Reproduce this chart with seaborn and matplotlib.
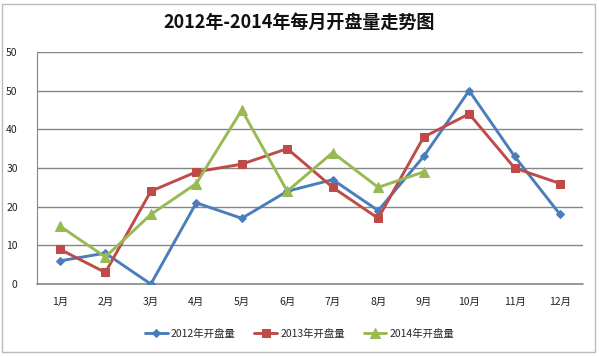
import matplotlib
matplotlib.use("Agg")
import matplotlib.pyplot as plt
import seaborn as sns
import pandas as pd
from matplotlib.patches import Rectangle

months = ["1月", "2月", "3月", "4月", "5月", "6月", "7月", "8月", "9月", "10月", "11月", "12月"]
s2012 = [6, 8, 0, 21, 17, 24, 27, 19, 33, 50, 33, 18]
s2013 = [9, 3, 24, 29, 31, 35, 25, 17, 38, 44, 30, 26]
s2014 = [15, 7, 18, 26, 45, 24, 34, 25, 29]
series_names = ["2012年开盘量", "2013年开盘量", "2014年开盘量"]
yticks = [0, 10, 20, 30, 40, 50, 60]
ytick_labels = ["0", "10", "20", "30", "40", "50", "50"]

sns.set_style("white")
plt.rcParams["font.family"] = ["Noto Sans CJK SC", "DejaVu Sans"]

colors = ["#4A7EBB", "#BE4B48", "#98B954"]
markers = ["D", "s", "^"]
msizes = [4.5, 6.2, 6.5]

fig = plt.figure(figsize=(5.99, 3.56), dpi=100)
ax = fig.add_axes([0.062, 0.202, 0.911, 0.652])

for name, vals, c, m, ms in zip(series_names, [s2012, s2013, s2014], colors, markers, msizes):
    df = pd.DataFrame({"x": range(len(vals)), "y": vals})
    sns.lineplot(data=df, x="x", y="y", ax=ax, color=c, marker=m, markersize=ms,
                 markeredgecolor=c, lw=2.1, label=name, zorder=3)

ax.set_xlim(-0.5, 11.5)
ax.set_ylim(0, 60)
ax.set_xticks(range(len(months)))
ax.set_xticklabels(months, fontsize=7.5, color="#222222")
ax.set_yticks(yticks)
ax.set_yticklabels(ytick_labels, fontsize=7.5, color="#222222")
ax.tick_params(axis="both", length=0, pad=9)
ax.tick_params(axis="y", pad=14)
ax.yaxis.grid(True, color="#868686", lw=1)
ax.axhline(0, color="#868686", lw=1.2, clip_on=False, zorder=1)
ax.set_axisbelow(True)
for s in ["top", "right", "bottom"]:
    ax.spines[s].set_visible(False)
ax.spines["left"].set_color("#868686")
ax.set_xlabel("")
ax.set_ylabel("")

ax.get_legend().remove()
h, l = ax.get_legend_handles_labels()
fig.legend(h, l, loc="center", bbox_to_anchor=(0.5, 0.062), ncol=3, frameon=False,
           fontsize=7.5, handlelength=2.2, columnspacing=1.8, handletextpad=0.3)

fig.text(0.5, 0.938, "2012年-2014年每月开盘量走势图", ha="center", va="center",
         fontsize=13, fontweight="bold", color="#111111")

fig.patches.append(Rectangle((0.003, 0.01), 0.99, 0.98, transform=fig.transFigure,
                             fill=False, edgecolor="#BBBBBB", lw=1))

fig.savefig("out.png", dpi=100)
